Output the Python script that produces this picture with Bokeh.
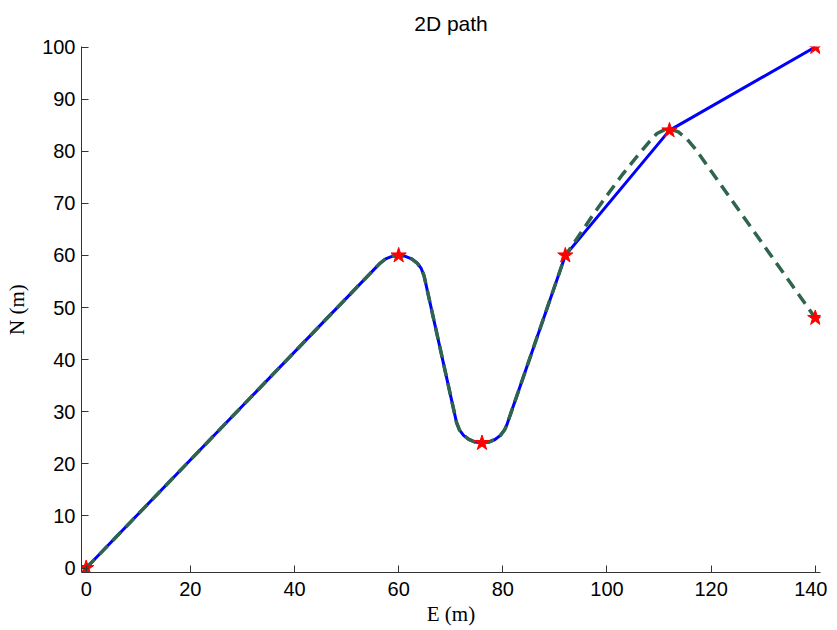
from bokeh.plotting import figure
from bokeh.models import Range1d, FixedTicker
from bokeh.embed import file_html
from bokeh.resources import INLINE

# Waypoints (E, N) in metres
wp_E = [0, 60, 76, 92, 112, 140, 140]
wp_N = [0, 60, 24, 60, 84, 100, 48]

# Planned path (solid blue)
path_E = [0.0, 56.40, 57.50, 58.71, 60.00, 61.29, 62.50, 63.54, 64.33, 64.88,
          71.12, 71.67, 72.46, 73.50, 74.71, 76.00, 77.29, 78.50, 79.54, 80.33,
          80.73, 92.0, 112.0, 140.0]
path_N = [0.0, 58.47, 59.33, 59.83, 60.00, 59.83, 59.33, 58.54, 57.50, 56.08,
          27.92, 26.50, 25.46, 24.67, 24.17, 24.00, 24.17, 24.67, 25.46, 26.50,
          27.37, 60.0, 84.0, 100.0]

# Followed path (dashed green)
track_E = [0.0, 56.40, 57.50, 58.71, 60.00, 61.29, 62.50, 63.54, 64.33, 64.88,
           71.12, 71.67, 72.46, 73.50, 74.71, 76.00, 77.29, 78.50, 79.54, 80.33,
           80.73, 92.0, 94.7, 97.4, 100.2, 102.8, 105.6, 108.2, 109.6, 111.0,
           112.3, 113.7, 115.3, 117.0, 140.0]
track_N = [0.0, 58.47, 59.33, 59.83, 60.00, 59.83, 59.33, 58.54, 57.50, 56.08,
           27.92, 26.50, 25.46, 24.67, 24.17, 24.00, 24.17, 24.67, 25.46, 26.50,
           27.37, 60.0, 63.9, 67.9, 71.8, 75.3, 78.8, 81.9, 83.4, 84.1,
           84.2, 83.7, 82.4, 80.4, 48.0]

x_ticks = [0, 20, 40, 60, 80, 100, 120, 140]
y_ticks = [0, 10, 20, 30, 40, 50, 60, 70, 80, 90, 100]

p = figure(frame_width=739, frame_height=526, output_backend="svg",
           toolbar_location=None,
           x_range=Range1d(-0.9, 141.0), y_range=Range1d(-0.86, 100.1),
           min_border_left=81, min_border_right=7, min_border_top=46,
           min_border_bottom=58, title="2D path")
p.background_fill_color = "white"
p.border_fill_color = "white"
p.outline_line_color = None
p.grid.visible = False

p.title.align = "center"
p.title.vertical_align = "top"
p.title.text_font = "Liberation Sans"
p.title.text_font_size = "21px"
p.title.text_font_style = "normal"
p.title.text_color = "black"
p.title.standoff = 20

for ax in (p.xaxis[0], p.yaxis[0]):
    ax.axis_line_color = "#333333"
    ax.axis_line_width = 1
    ax.major_tick_line_color = "#333333"
    ax.major_tick_in = 7
    ax.major_tick_out = 0
    ax.minor_tick_line_color = None
    ax.major_label_text_font = "Liberation Sans"
    ax.major_label_text_font_size = "20px"
    ax.major_label_text_color = "black"
    ax.axis_label_text_font = "Liberation Serif"
    ax.axis_label_text_font_size = "21px"
    ax.axis_label_text_font_style = "normal"
    ax.axis_label_text_color = "black"

p.xaxis.ticker = FixedTicker(ticks=x_ticks)
p.yaxis.ticker = FixedTicker(ticks=y_ticks)
p.xaxis.axis_label = "E (m)"
p.yaxis.axis_label = "N (m)"
p.xaxis.major_label_standoff = 9
p.xaxis.axis_label_standoff = 3
p.yaxis.major_label_standoff = 6
p.yaxis.axis_label_standoff = 10

p.line(path_E, path_N, line_color="#0000FF", line_width=3, line_join="round")
p.line(track_E, track_N, line_color="#2F654C", line_width=3.5, line_dash="12 7",
       line_join="round")
p.scatter(wp_E, wp_N, marker="star", size=16, fill_color="#FF0000",
          line_color="#FF0000", line_width=1)

open("out.html", "w").write(file_html(p, INLINE))
